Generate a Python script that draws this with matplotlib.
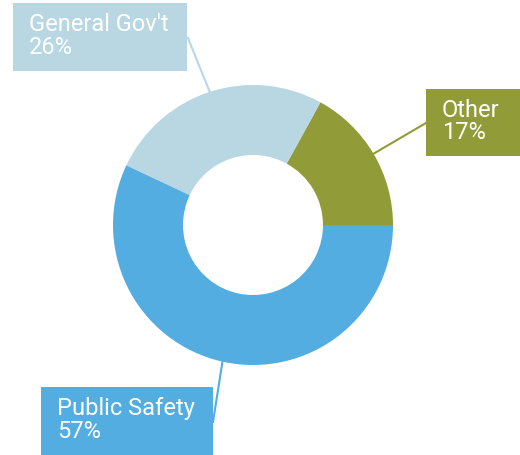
import numpy as np
import matplotlib.pyplot as plt
from matplotlib.patches import Rectangle

plt.rcParams['font.family'] = ['Roboto', 'DejaVu Sans']

labels = ["Other", "General Gov't", "Public Safety"]
shares = [17, 26, 57]
colors = ["#919C38", "#B8D7E3", "#53ADE0"]

# label boxes (pixel layout, y up): x0, y0, width, height, line anchor
boxes = [
    (426, 299, 94, 67, (426, 332)),
    (13, 384, 174, 68, (188, 417)),
    (41, 0, 172, 68, (213, 33)),
]

W, H = 520, 455
cx, cy, R, r_in = 253, 230, 140, 70

fig = plt.figure(figsize=(W / 100, H / 100), dpi=100)
ax = fig.add_axes([0, 0, 1, 1])

wedges, _ = ax.pie(shares, colors=colors, startangle=0, counterclock=True,
                   center=(cx, cy), radius=R, frame=True,
                   wedgeprops=dict(width=R - r_in, linewidth=0))

for w, lab, val, col, (bx, by, bw, bh, anchor) in zip(wedges, labels, shares, colors, boxes):
    mid = np.deg2rad((w.theta1 + w.theta2) / 2)
    px, py = cx + R * np.cos(mid), cy + R * np.sin(mid)
    ax.plot([anchor[0], px], [anchor[1], py], color=col, lw=1.5, zorder=1)
    ax.add_patch(Rectangle((bx, by), bw, bh, facecolor=col, edgecolor="none", zorder=2))
    ax.text(bx + 16, by + bh / 2 + 1, f"{lab}\n{val}%", color="white", fontsize=17,
            ha="left", va="center", linespacing=0.95, zorder=3)

ax.set_xlim(0, W)
ax.set_ylim(0, H)
ax.set_aspect("auto")
ax.axis("off")

fig.savefig("out.png", dpi=100)
